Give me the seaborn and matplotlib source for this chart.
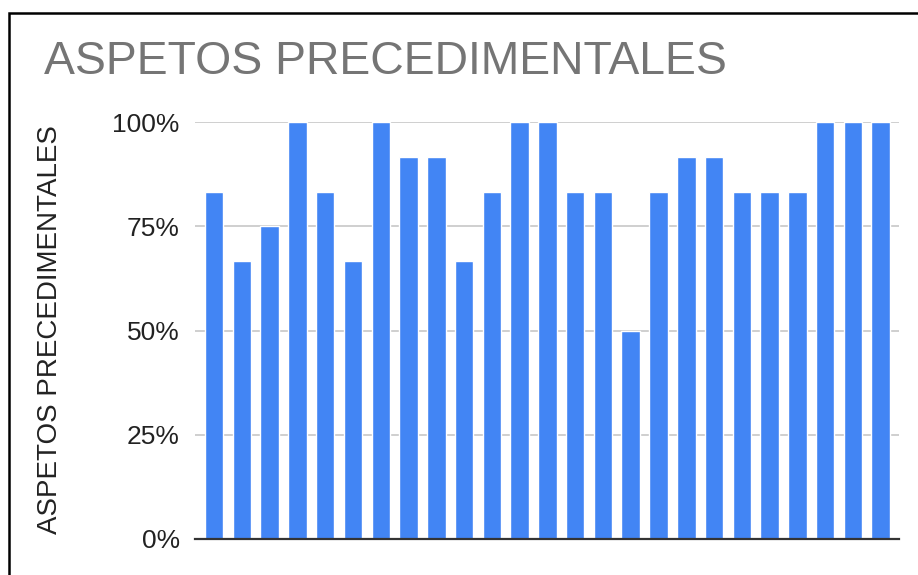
import matplotlib
matplotlib.use("Agg")
import matplotlib.pyplot as plt
import matplotlib.patches as mpatches
from matplotlib.ticker import PercentFormatter
import seaborn as sns
import pandas as pd

# data (fractions of 12 items)
items = [str(i) for i in range(1, 26)]
scores = [10/12, 8/12, 9/12, 12/12, 10/12, 8/12, 12/12, 11/12, 11/12, 8/12,
          10/12, 12/12, 12/12, 10/12, 10/12, 6/12, 10/12, 11/12, 11/12, 10/12,
          10/12, 10/12, 12/12, 12/12, 12/12]
yticks = [0, 0.25, 0.5, 0.75, 1.0]

df = pd.DataFrame({'Item': items, 'Score': scores})

sns.set_style('white')
plt.rcParams['font.family'] = ['Liberation Sans', 'DejaVu Sans']

fig = plt.figure(figsize=(9.18, 5.75), dpi=100)
ax = fig.add_axes([195/918, 1 - 539/575, (899 - 195)/918, (539 - 122)/575])

sns.barplot(data=df, x='Item', y='Score', color='#4285F4', saturation=1,
            width=0.666, ax=ax, zorder=3)

ax.set_ylim(0, 1)
ax.set_xlim(-0.69, len(items) - 1 + 0.66)
ax.set_yticks(yticks)
ax.yaxis.set_major_formatter(PercentFormatter(1.0, decimals=0))
ax.grid(axis='y', color='#cccccc', linewidth=1.3, zorder=0)
ax.set_xticks([])
ax.tick_params(axis='y', length=0, pad=11, labelsize=19, labelcolor='#222222')
for s in ['top', 'right', 'left']:
    ax.spines[s].set_visible(False)
ax.spines['bottom'].set_color('#333333')
ax.spines['bottom'].set_linewidth(1.6)
ax.spines['bottom'].set_zorder(4)
ax.set_xlabel('')
ax.set_ylabel('')

fig.text(50/918, 1 - 330/575, 'ASPETOS PRECEDIMENTALES', rotation=90,
         ha='center', va='center', fontsize=20, color='#222222')
fig.text(44/918, 1 - 62/575, 'ASPETOS PRECEDIMENTALES', ha='left',
         va='center', fontsize=33.4, color='#757575')

# outer frame of the screenshot
frame = mpatches.Rectangle((9/918, -0.1), 1.2, 1.1 - 13/575, transform=fig.transFigure,
                           fill=False, edgecolor='black', linewidth=1.8, clip_on=False)
fig.patches.append(frame)

fig.savefig('out.png', dpi=100)
